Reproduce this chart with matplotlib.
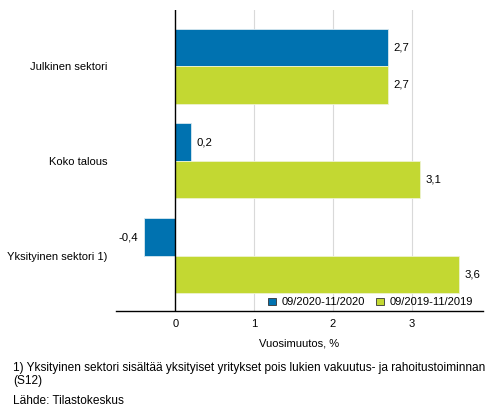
import matplotlib
matplotlib.use("Agg")
import matplotlib.pyplot as plt
import numpy as np
from matplotlib.patches import Patch

categories = ["Julkinen sektori", "Koko talous", "Yksityinen sektori 1)"]
series_names = ["09/2020-11/2020", "09/2019-11/2019"]
values_2020 = [2.7, 0.2, -0.4]
values_2019 = [2.7, 3.1, 3.6]
xticks = [0, 1, 2, 3]

colors = ["#0072B0", "#C3D832"]

plt.rcParams['font.family'] = ['Liberation Sans', 'DejaVu Sans']
plt.rcParams['font.size'] = 8

fig = plt.figure(figsize=(4.93, 4.16), dpi=100)
W, H = 493, 416
left, right, top, bottom = 116, 483, 10, 311
ax = fig.add_axes([left / W, 1 - bottom / H, (right - left) / W, (bottom - top) / H])

y = np.arange(len(categories))
h = 0.395
b1 = ax.barh(y - h / 2, values_2020, height=h, color=colors[0], edgecolor="#d8e8f0",
             linewidth=0.6, label=series_names[0], zorder=3)
b2 = ax.barh(y + h / 2, values_2019, height=h, color=colors[1], edgecolor="#eef3d0",
             linewidth=0.6, label=series_names[1], zorder=3)

def fmt(v):
    return f"{v:.1f}".replace(".", ",")

for bars, vals in ((b1, values_2020), (b2, values_2019)):
    for rect, v in zip(bars, vals):
        yc = rect.get_y() + rect.get_height() / 2
        if v >= 0:
            ax.annotate(fmt(v), (v, yc), xytext=(4, 0), textcoords="offset points",
                        ha="left", va="center", fontsize=8.2)
        else:
            ax.annotate(fmt(v), (v, yc), xytext=(-4, 0), textcoords="offset points",
                        ha="right", va="center", fontsize=8.2)

ax.set_xlim(-0.75, 3.9)
ax.set_ylim(2.58, -0.59)
ax.set_xticks(xticks)
ax.set_xticklabels([str(t) for t in xticks])
ax.set_yticks(y)
ax.set_yticklabels(categories)
ax.tick_params(axis="x", length=0, pad=6)
ax.tick_params(axis="y", length=0, pad=6)

for t in [1, 2, 3]:
    ax.axvline(t, color="#d9d9d9", linewidth=0.8, zorder=1)
ax.axvline(0, color="black", linewidth=1.0, zorder=4)

for s in ["top", "right", "left"]:
    ax.spines[s].set_visible(False)
ax.spines["bottom"].set_color("black")
ax.spines["bottom"].set_linewidth(1.0)

ax.set_xlabel("Vuosimuutos, %")
ax.xaxis.set_label_coords(0.5, -(343 - bottom) / (bottom - top), transform=ax.transAxes)
ax.xaxis.label.set_va("center")

handles = [Patch(facecolor=colors[0], edgecolor="#333333", linewidth=0.6),
           Patch(facecolor=colors[1], edgecolor="#333333", linewidth=0.6)]
ax.legend(handles, series_names, loc="lower right", bbox_to_anchor=(0.99, -0.01),
          ncol=2, frameon=False, handlelength=0.7, handleheight=0.7,
          handletextpad=0.5, columnspacing=1.0, fontsize=8, borderaxespad=0.2)

fig.text(13 / W, 1 - 368 / H, "1) Yksityinen sektori sisältää yksityiset yritykset pois lukien vakuutus- ja rahoitustoiminnan",
         ha="left", va="center", fontsize=8.6)
fig.text(13 / W, 1 - 381 / H, "(S12)", ha="left", va="center", fontsize=8.6)
fig.text(13 / W, 1 - 401 / H, "Lähde: Tilastokeskus", ha="left", va="center", fontsize=8.6)

fig.savefig("out.png", dpi=100)
